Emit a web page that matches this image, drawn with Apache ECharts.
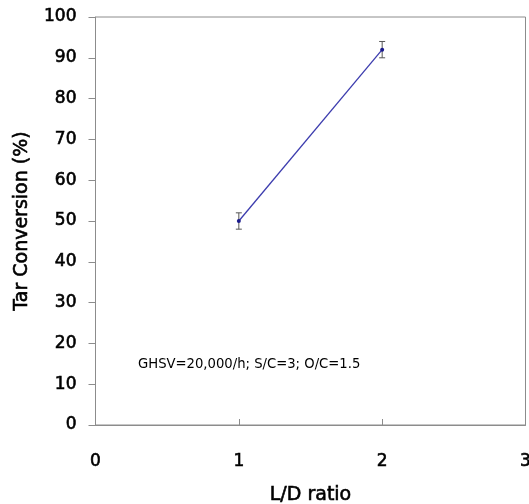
<!DOCTYPE html>
<html>
<head>
<meta charset="utf-8">
<script src="https://cdn.jsdelivr.net/npm/echarts@6/dist/echarts.min.js"></script>
<style>
  html, body { margin: 0; padding: 0; background: #fff; }
  #chart { width: 529px; height: 504px; }
</style>
</head>
<body>
<div id="chart"></div>
<script>
// L/D ratio vs tar conversion, with error bars
const ldRatio = [1, 2];
const tarConversion = [50, 92];
const errorHalf = [2, 2];
const xTicks = [0, 1, 2, 3];
const yTicks = [0, 10, 20, 30, 40, 50, 60, 70, 80, 90, 100];
const noteText = 'GHSV=20,000/h; S/C=3; O/C=1.5';

const lineData = ldRatio.map((x, i) => [x, tarConversion[i]]);
const errData = ldRatio.map((x, i) => [x, tarConversion[i] - errorHalf[i], tarConversion[i] + errorHalf[i]]);

const axisColor = '#8c8c8c';
const fontFam = '"DejaVu Sans", "Noto Sans", sans-serif';
const heavy = { textBorderColor: '#000', textBorderWidth: 0.6 };

const chart = echarts.init(document.getElementById('chart'), null, { renderer: 'canvas' });
chart.setOption({
  animation: false,
  backgroundColor: '#ffffff',
  grid: {
    left: 95.5, top: 17, right: 3.5, bottom: 79,
    outerBoundsMode: 'none', containLabel: false,
    show: true, borderColor: axisColor, borderWidth: 1, backgroundColor: 'transparent'
  },
  xAxis: {
    type: 'value',
    min: xTicks[0], max: xTicks[xTicks.length - 1], interval: 1,
    name: 'L/D ratio', nameLocation: 'middle', nameGap: 61,
    nameTextStyle: Object.assign({ fontFamily: fontFam, fontSize: 19, color: '#000' }, heavy),
    axisLine: { show: true, lineStyle: { color: axisColor } },
    axisTick: { show: true, inside: true, length: 6, lineStyle: { color: axisColor } },
    axisLabel: Object.assign({ margin: 28, fontFamily: fontFam, fontSize: 17, color: '#000' }, heavy),
    splitLine: { show: false }
  },
  yAxis: {
    type: 'value',
    min: yTicks[0], max: yTicks[yTicks.length - 1], interval: 10,
    name: 'Tar Conversion (%)', nameLocation: 'middle', nameGap: 64,
    nameTextStyle: Object.assign({ fontFamily: fontFam, fontSize: 19, color: '#000' }, heavy),
    axisLine: { show: true, lineStyle: { color: axisColor } },
    axisTick: { show: true, inside: false, length: 7, lineStyle: { color: axisColor } },
    axisLabel: Object.assign({ margin: 19, fontFamily: fontFam, fontSize: 17, color: '#000' }, heavy),
    splitLine: { show: false }
  },
  series: [
    {
      type: 'line',
      data: lineData,
      symbol: 'circle', symbolSize: 4,
      itemStyle: { color: '#1a1a8c' },
      lineStyle: { color: '#3c3cae', width: 1.3 },
      z: 3
    },
    {
      type: 'custom',
      data: errData,
      renderItem: function (params, api) {
        const x = api.value(0);
        const lo = api.coord([x, api.value(1)]);
        const hi = api.coord([x, api.value(2)]);
        const w = 3;
        const style = { stroke: '#555', lineWidth: 1 };
        return {
          type: 'group',
          children: [
            { type: 'line', shape: { x1: lo[0], y1: lo[1], x2: hi[0], y2: hi[1] }, style },
            { type: 'line', shape: { x1: lo[0] - w, y1: lo[1], x2: lo[0] + w, y2: lo[1] }, style },
            { type: 'line', shape: { x1: hi[0] - w, y1: hi[1], x2: hi[0] + w, y2: hi[1] }, style }
          ]
        };
      },
      z: 2
    }
  ],
  graphic: [
    {
      type: 'text', left: 138, top: 358,
      style: { text: noteText, fontFamily: fontFam, fontSize: 13.2, fill: '#000' }
    }
  ]
});
</script>
</body>
</html>
